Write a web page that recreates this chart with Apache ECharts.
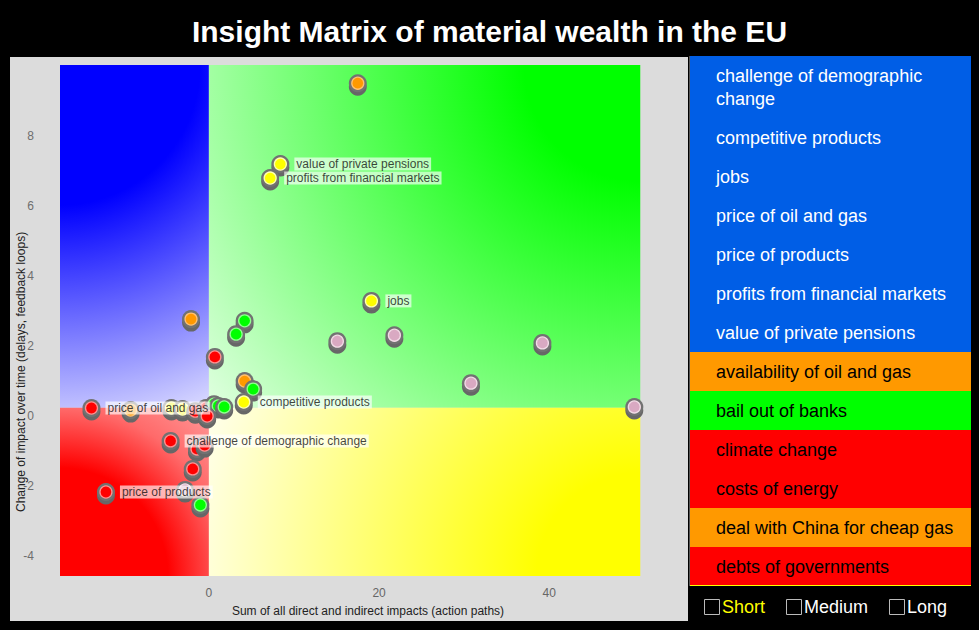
<!DOCTYPE html>
<html><head><meta charset="utf-8">
<script src="https://cdn.jsdelivr.net/npm/echarts@6/dist/echarts.min.js"></script>
<style>html,body{margin:0;padding:0;background:#000;} #c{width:979px;height:630px;}</style>
</head><body><div id="c"></div>
<script>
// ---------- data ----------
const chartTitle = 'Insight Matrix of material wealth in the EU';
const xAxisName = 'Sum of all direct and indirect impacts (action paths)';
const yAxisName = 'Change of impact over time (delays, feedback loops)';
const xTicks = [0, 20, 40];
const yTicks = [-4, -2, 0, 2, 4, 6, 8];
const xRange = [-17.5, 54.9];
const yRange = [-4.58, 10.02];
const quadrantX = [-17.5, 0, 50.7];
const quadrantY = [-4.58, 0.23, 10.02];

const pointX = [17.5, 8.4, 7.2, 19.1, 15.1, 21.8, 39.2, 30.8, 50.0, -2.1, 4.2, 3.2, 0.7, 4.2, 5.2,
  -9.2, -4.4, -3.1, -1.6, -0.35, 0.6, 1.1, -0.2, 1.8, 4.1, -13.8,
  -1.4, -0.5, -4.5, -1.9, -2.8, -1.0, -12.1];
const pointY = [9.5, 7.19, 6.79, 3.28, 2.13, 2.30, 2.08, 0.93, 0.25, 2.76, 2.71, 2.33, 1.68, 0.99, 0.76,
  0.16, 0.22, 0.19, 0.13, 0.22, 0.33, 0.28, -0.01, 0.25, 0.39, 0.22,
  -0.95, -0.84, -0.72, -1.52, -2.12, -2.55, -2.18];
const pointKind = ['orange', 'yellow', 'yellow', 'yellow', 'pink', 'pink', 'pink', 'pink', 'pink', 'orange', 'green', 'green', 'red', 'orange', 'green',
  'orange', 'yellow', 'yellow', 'red', 'red', 'green', 'green', 'red', 'green', 'yellow', 'red',
  'red', 'red', 'red', 'red', 'pink', 'green', 'red'];
const pointLabel = ['', 'value of private pensions', 'profits from financial markets', 'jobs', '', '', '', '', '', '', '', '', '', '', '',
  '', '', '', '', '', '', '', '', '', 'competitive products', 'price of oil and gas',
  '', '', 'challenge of demographic change', '', '', '', 'price of products'];

const legendItems = ['challenge of demographic change', 'competitive products', 'jobs', 'price of oil and gas',
  'price of products', 'profits from financial markets', 'value of private pensions', 'availability of oil and gas',
  'bail out of banks', 'climate change', 'costs of energy', 'deal with China for cheap gas', 'debts of governments'];
const legendKinds = ['blue', 'blue', 'blue', 'blue', 'blue', 'blue', 'blue', 'orange', 'green', 'red', 'red', 'orange', 'red'];
const horizonItems = ['Short', 'Medium', 'Long'];

// ---------- style ----------
const FONT = 'Liberation Sans, Arial, Helvetica, sans-serif';
const markerColors = {orange: '#ff9900', yellow: '#ffff00', green: '#00ff00', red: '#ff0000', pink: '#d9a9c2'};
const ringColors = {orange: '#ffc070', yellow: '#ffffb0', green: '#90ff90', red: '#ff9090', pink: '#f2dbe6'};
const panelColors = {blue: '#005ee6', orange: '#ff9900', green: '#00ff00', red: '#ff0000'};
const panelText = {blue: '#ffffff', orange: '#000000', green: '#000000', red: '#000000'};

const chart = echarts.init(document.getElementById('c'), null, {renderer: 'svg'});

// panels, axis title and legends
const graphics = [];
graphics.push({type: 'rect', z: -5, shape: {x: 10, y: 57, width: 678, height: 564}, style: {fill: '#dcdcdc'}});
graphics.push({type: 'text', z: 2, x: 21, y: 512, rotation: Math.PI / 2,
  style: {text: yAxisName, fill: '#222', font: '12px ' + FONT, align: 'left', verticalAlign: 'middle'}});
const measure = document.createElement('canvas').getContext('2d');
measure.font = '18px ' + FONT;
let rowY = 56;
const textW = 240;
legendItems.forEach((t, i) => {
  const lines = measure.measureText(t).width > textW ? 2 : 1;
  const h = 16 + 23 * lines;
  const k = legendKinds[i];
  graphics.push({type: 'rect', z: 1, shape: {x: 690, y: rowY, width: 281, height: h}, style: {fill: panelColors[k]}});
  graphics.push({type: 'text', z: 2, x: 716, y: rowY + h / 2 + 0.5, style: {text: t, fill: panelText[k], font: '18px ' + FONT,
    verticalAlign: 'middle', width: textW, overflow: 'break', lineHeight: 23}});
  rowY += h;
});
graphics.push({type: 'rect', z: 3, shape: {x: 690, y: rowY - 1, width: 281, height: 1}, style: {fill: '#ffff00'}});
graphics.push({type: 'rect', z: 3, shape: {x: 689, y: 56, width: 1, height: rowY - 56}, style: {fill: '#555'}});
const boxX = [704, 786, 889];
const horizonColors = ['#ffff00', '#ffffff', '#ffffff'];
horizonItems.forEach((t, i) => {
  graphics.push({type: 'rect', z: 2, shape: {x: boxX[i] + 0.5, y: 599.5, width: 15, height: 15}, style: {fill: 'none', stroke: '#bbbbbb', lineWidth: 1}});
  graphics.push({type: 'text', z: 2, x: boxX[i] + 18, y: 607, style: {text: t, fill: horizonColors[i], font: '18px ' + FONT, verticalAlign: 'middle'}});
});

const option = {
  backgroundColor: '#000',
  animation: false,
  title: {text: chartTitle, left: 'center', top: 16, padding: 0,
    textStyle: {color: '#fff', fontSize: 30, fontWeight: 'bold', fontFamily: FONT}},
  graphic: graphics,
  grid: {left: 60, right: 303, top: 65, bottom: 54, containLabel: false, outerBoundsMode: 'none'},
  xAxis: {type: 'value', min: xRange[0], max: xRange[1],
    axisLine: {show: false}, axisTick: {show: false}, splitLine: {show: false},
    axisLabel: {customValues: xTicks, color: '#666666', fontSize: 12, fontFamily: FONT, margin: 11},
    name: xAxisName, nameLocation: 'middle', nameGap: 29,
    nameTextStyle: {color: '#222', fontSize: 12, fontFamily: FONT}},
  yAxis: {type: 'value', min: yRange[0], max: yRange[1],
    axisLine: {show: false}, axisTick: {show: false}, splitLine: {show: false},
    axisLabel: {customValues: yTicks, color: '#6e6e6e', fontSize: 12, fontFamily: FONT, margin: 26}},
  series: [
    {type: 'line', z: 1, data: [], silent: true, markArea: {silent: true, data: []}},
    {type: 'custom', z: 3, silent: true,
      data: pointX.map((x, i) => [x, pointY[i]]),
      renderItem: (params, api) => {
        const p = api.coord([api.value(0), api.value(1)]);
        const k = pointKind[params.dataIndex];
        return {type: 'group', children: [
          {type: 'circle', shape: {cx: p[0], cy: p[1] + 3.5, r: 9}, style: {fill: '#676767'}},
          {type: 'circle', shape: {cx: p[0], cy: p[1], r: 9}, style: {fill: '#727272'}},
          {type: 'circle', shape: {cx: p[0], cy: p[1], r: 6}, style: {fill: markerColors[k], stroke: ringColors[k], lineWidth: 1.3}}
        ]};
      }},
    {type: 'scatter', z: 4, silent: true, symbolSize: 14, itemStyle: {color: 'rgba(0,0,0,0)'},
      data: pointX.map((x, i) => ({name: pointLabel[i], value: [x, pointY[i]]})).filter(d => d.name),
      label: {show: true, position: 'right', distance: 7, formatter: '{b}', color: '#111', fontSize: 12, fontFamily: FONT,
        backgroundColor: 'rgba(255,255,255,0.82)', padding: [1, 2, 0, 2]}}
  ]
};
chart.setOption(option);

// quadrant backgrounds with radial gradients centred on the outer corners
const toPx = (x, y) => chart.convertToPixel({gridIndex: 0}, [x, y]);
function grad(cx, cy, r, stops) {
  const c = toPx(cx, cy);
  return {type: 'radial', x: c[0], y: c[1], r: r, global: true,
    colorStops: stops.map(s => ({offset: s[0], color: s[1]}))};
}
const [xL, xS, xR] = quadrantX;
const [yB, yS, yT] = quadrantY;
const areas = [
  [[xL, yS], [xS, yT], grad(xL, yT, 400, [[0, '#0000ff'], [0.35, '#0000ff'], [1, '#f6f6ff']])],
  [[xS, yS], [xR, yT], grad(xR, yT, 580, [[0, '#00ff00'], [0.2, '#00ff00'], [1, '#f0fff0']])],
  [[xL, yB], [xS, yS], grad(xL, yB, 240, [[0, '#ff0000'], [0.45, '#ff0000'], [0.7, '#ff6a6a'], [1, '#ffa8a8']])],
  [[xS, yB], [xR, yS], grad(xR, yB, 470, [[0, '#ffff00'], [0.22, '#ffff00'], [1, '#fffff2']])]
];
chart.setOption({series: [{markArea: {silent: true, data: areas.map(a => [
  {coord: a[0], itemStyle: {color: a[2], opacity: 1}}, {coord: a[1]}])}}]});
</script></body></html>
